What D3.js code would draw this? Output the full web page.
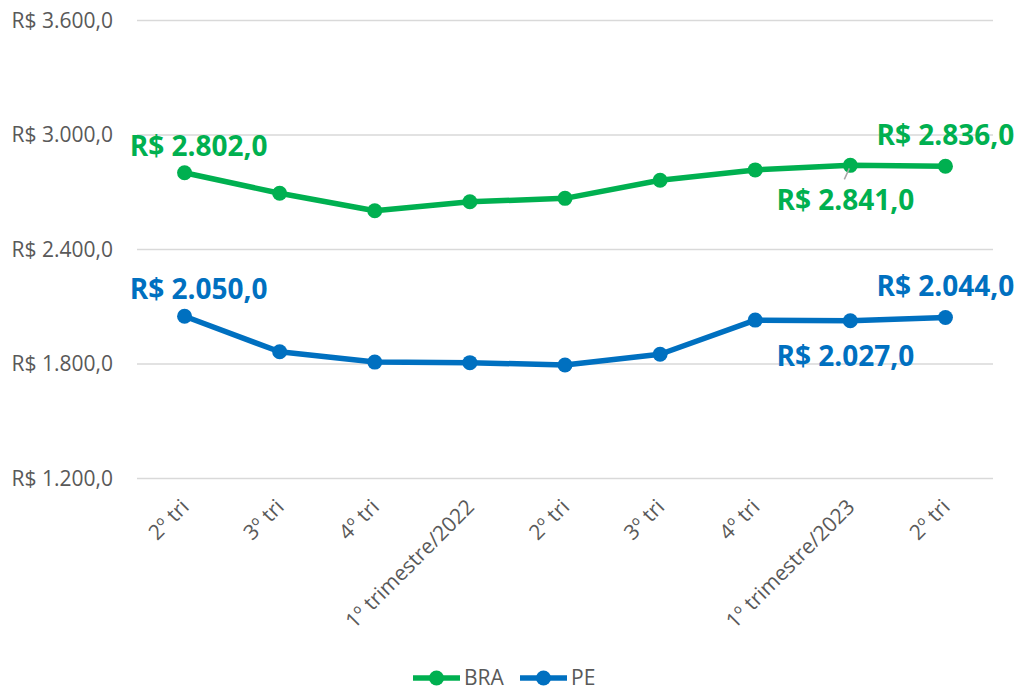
<!DOCTYPE html>
<html>
<head>
<meta charset="utf-8">
<script src="https://cdn.jsdelivr.net/npm/d3@7"></script>
<style>
  html, body { margin: 0; padding: 0; background: #fff; }
  svg { display: block; }
</style>
</head>
<body>
<svg id="chart" width="1019" height="693"></svg>
<script>
const categories = ["2º tri", "3º tri", "4º tri", "1º trimestre/2022", "2º tri", "3º tri", "4º tri", "1º trimestre/2023", "2º tri"];
const braValues = [2802, 2695, 2603, 2650, 2668, 2763, 2817, 2841, 2836];
const peValues  = [2050, 1864, 1810, 1807, 1795, 1851, 2030, 2027, 2044];
const yTicks = [1200, 1800, 2400, 3000, 3600];
const seriesNames = ["BRA", "PE"];
const labeledIdx = [0, 7, 8];

const W = 1019, H = 693;
const margin = { left: 137, right: 26, top: 20.5, bottom: 214.5 };
const svg = d3.select("#chart");

const locale = d3.formatLocale({ decimal: ",", thousands: ".", grouping: [3], currency: ["R$ ", ""] });
const fmt = locale.format("$,.1f");

const x = d3.scalePoint().domain(d3.range(categories.length))
  .range([margin.left, W - margin.right]).padding(0.5);
const y = d3.scaleLinear().domain([1200, 3600]).range([H - margin.bottom, margin.top]);

// gridlines
svg.append("g").selectAll("line").data(yTicks).join("line")
  .attr("x1", margin.left).attr("x2", W - margin.right)
  .attr("y1", d => y(d)).attr("y2", d => y(d))
  .attr("stroke", "#d9d9d9").attr("stroke-width", 1.3);

// y axis labels
const yAxis = d3.axisLeft(y).tickValues(yTicks).tickFormat(fmt).tickSize(0).tickPadding(0);
const gy = svg.append("g").attr("transform", "translate(113,0)").call(yAxis);
gy.select(".domain").remove();
gy.selectAll("text").attr("font-family", "'Open Sans', sans-serif").attr("font-size", 21)
  .attr("fill", "#595959");

// x axis labels
const xAxis = d3.axisBottom(x).tickFormat(i => categories[i]).tickSize(0).tickPadding(0);
const gx = svg.append("g").attr("transform", "translate(0,503)").call(xAxis);
gx.select(".domain").remove();
gx.selectAll("text")
  .attr("font-family", "'Open Sans', sans-serif").attr("font-size", 21).attr("fill", "#595959")
  .attr("text-anchor", "end").attr("dy", "0.35em")
  .attr("transform", "translate(0,0) rotate(-45)");

const series = [
  { name: seriesNames[0], values: braValues, color: "#00B050" },
  { name: seriesNames[1], values: peValues, color: "#0070C0" }
];

const line = d3.line().x((d, i) => x(i)).y(d => y(d));

series.forEach(s => {
  svg.append("path").datum(s.values).attr("d", line)
    .attr("fill", "none").attr("stroke", s.color).attr("stroke-width", 5.5)
    .attr("stroke-linejoin", "round").attr("stroke-linecap", "round");
  svg.append("g").selectAll("circle").data(s.values).join("circle")
    .attr("cx", (d, i) => x(i)).attr("cy", d => y(d)).attr("r", 7.5).attr("fill", s.color);
});

// leader line for BRA label below point 8
svg.append("line")
  .attr("x1", x(7) - 1).attr("y1", y(braValues[7]) + 3)
  .attr("x2", x(7) - 6).attr("y2", y(braValues[7]) + 14)
  .attr("stroke", "#a6a6a6").attr("stroke-width", 1.5);

// data labels
const labelPos = {
  0: { dx: 14, dy: -17 },
  7: { dx: -5, dy: 45 },
  8: { dx: 0, dy: -21 }
};
series.forEach(s => {
  svg.append("g").selectAll("text").data(labeledIdx).join("text")
    .attr("x", i => x(i) + labelPos[i].dx)
    .attr("y", i => y(s.values[i]) + labelPos[i].dy)
    .attr("text-anchor", "middle")
    .attr("font-family", "'Open Sans', sans-serif").attr("font-weight", "bold")
    .attr("font-size", 28).attr("fill", s.color)
    .text(i => fmt(s.values[i]));
});

// legend
const legendItems = [
  { name: seriesNames[0], color: series[0].color, x0: 413 },
  { name: seriesNames[1], color: series[1].color, x0: 520 }
];
const ly = 678;
const lg = svg.append("g");
legendItems.forEach(it => {
  lg.append("line").attr("x1", it.x0).attr("x2", it.x0 + 47).attr("y1", ly).attr("y2", ly)
    .attr("stroke", it.color).attr("stroke-width", 5.5);
  lg.append("circle").attr("cx", it.x0 + 23.5).attr("cy", ly).attr("r", 7.5).attr("fill", it.color);
  lg.append("text").attr("x", it.x0 + 51).attr("y", ly).attr("dy", "0.35em")
    .attr("font-family", "'Open Sans', sans-serif").attr("font-size", 21).attr("fill", "#595959")
    .text(it.name);
});
</script>
</body>
</html>
